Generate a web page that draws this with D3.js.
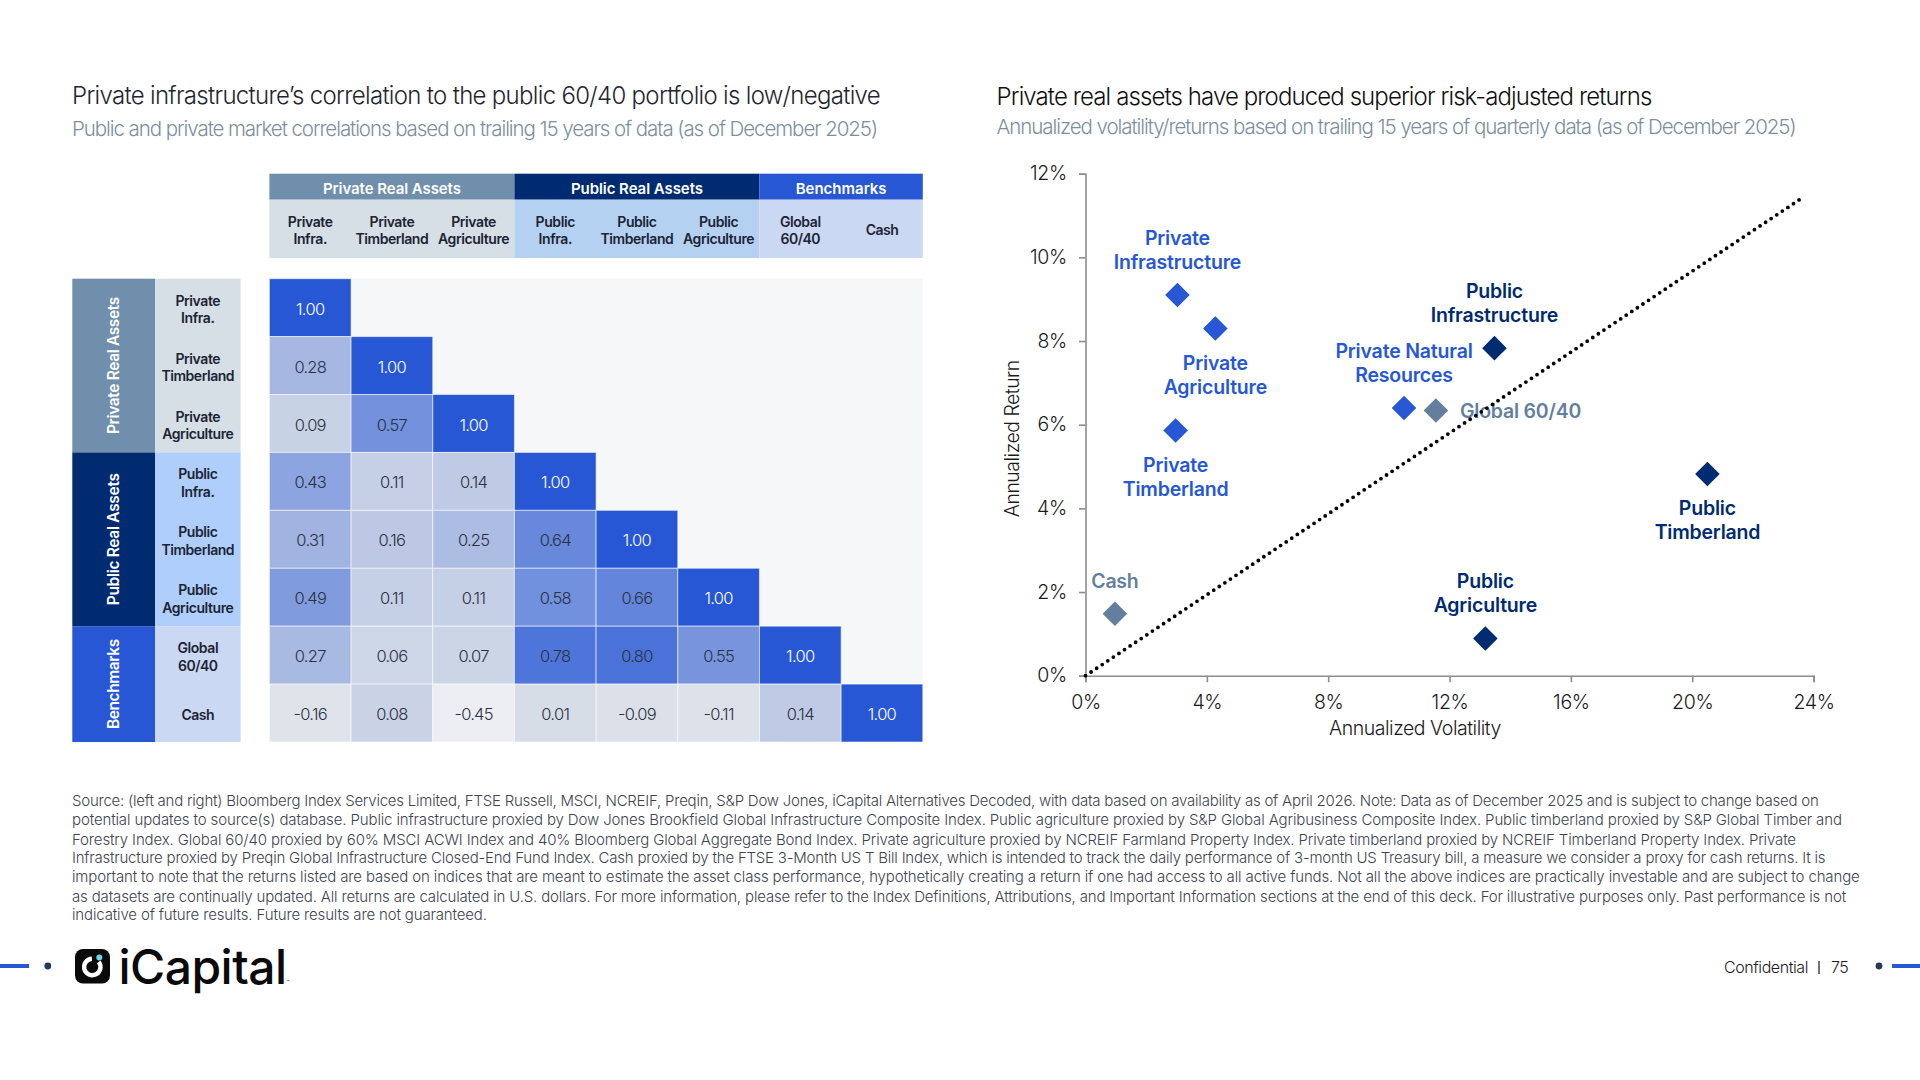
<!DOCTYPE html>
<html><head><meta charset="utf-8">
<script src="https://cdn.jsdelivr.net/npm/d3@7"></script>
<style>html,body{margin:0;padding:0;background:#fff}svg{display:block}text{font-family:Inter,sans-serif}</style>
</head><body><svg id="c" width="1920" height="1080"></svg>
<script>
// ---- data ----
const assetLines = [["Private","Infra."],["Private","Timberland"],["Private","Agriculture"],["Public","Infra."],["Public","Timberland"],["Public","Agriculture"],["Global","60/40"],["Cash"]];
const groupNames = ["Private Real Assets","Public Real Assets","Benchmarks"];
const groupSpans = [3,3,2];
const correlations = [
 [1.00],
 [0.28,1.00],
 [0.09,0.57,1.00],
 [0.43,0.11,0.14,1.00],
 [0.31,0.16,0.25,0.64,1.00],
 [0.49,0.11,0.11,0.58,0.66,1.00],
 [0.27,0.06,0.07,0.78,0.80,0.55,1.00],
 [-0.16,0.08,-0.45,0.01,-0.09,-0.11,0.14,1.00]
];
const pointNames = ["Private Infrastructure","Private Agriculture","Private Timberland","Private Natural Resources","Global 60/40","Public Infrastructure","Public Timberland","Public Agriculture","Cash"];
const pointVol = [3.03,4.28,2.97,10.5,11.55,13.48,20.5,13.18,0.97];
const pointRet = [9.10,8.30,5.86,6.40,6.34,7.83,4.82,0.89,1.48];
const pointGroup = [0,0,0,0,2,1,1,1,2];
const lineVol = [0,23.66];
const lineRet = [0,11.44];
const xTicks = [0,4,8,12,16,20,24];
const yTicks = [0,2,4,6,8,10,12];
const footnote = [
"Source: (left and right) Bloomberg Index Services Limited, FTSE Russell, MSCI, NCREIF, Preqin, S&P Dow Jones, iCapital Alternatives Decoded, with data based on availability as of April 2026. Note: Data as of December 2025 and is subject to change based on",
"potential updates to source(s) database. Public infrastructure proxied by Dow Jones Brookfield Global Infrastructure Composite Index. Public agriculture proxied by S&P Global Agribusiness Composite Index. Public timberland proxied by S&P Global Timber and",
"Forestry Index. Global 60/40 proxied by 60% MSCI ACWI Index and 40% Bloomberg Global Aggregate Bond Index. Private agriculture proxied by NCREIF Farmland Property Index. Private timberland proxied by NCREIF Timberland Property Index. Private",
"Infrastructure proxied by Preqin Global Infrastructure Closed-End Fund Index. Cash proxied by the FTSE 3-Month US T Bill Index, which is intended to track the daily performance of 3-month US Treasury bill, a measure we consider a proxy for cash returns. It is",
"important to note that the returns listed are based on indices that are meant to estimate the asset class performance, hypothetically creating a return if one had access to all active funds. Not all the above indices are practically investable and are subject to change",
"as datasets are continually updated. All returns are calculated in U.S. dollars. For more information, please refer to the Index Definitions, Attributions, and Important Information sections at the end of this deck. For illustrative purposes only. Past performance is not",
"indicative of future results. Future results are not guaranteed."
];

// ---- layout / style ----
const svg = d3.select("#c");
const C = {head:["#6f8fac","#002b70","#2757d5"], sub:["#d6dee6","#b5d1f1","#cbd8f3"], rowLab:["#d6dee6","#b0cefc","#cbd8f4"], mark:["#2757d5","#002b70","#647f9d"], ink:"#232b3b"};
function T(parent,s,x,y,o={}){
  const t=parent.append("text").attr("x",x).attr("y",y).text(s)
    .attr("font-size",o.size||16).attr("font-weight",o.weight||400).attr("fill",o.fill||C.ink)
    .attr("text-anchor",o.anchor||"start");
  if(o.rotate) t.attr("transform",`rotate(-90 ${x} ${y})`);
  const w=t.node().getComputedTextLength();
  const target=o.width||(o.k?w*o.k:null);
  if(target) t.style("letter-spacing",((target-w)/s.length)+"px");
  return t;
}
// titles
T(svg,"Private infrastructure\u2019s correlation to the public 60/40 portfolio is low/negative",72,104,{size:24,weight:300,fill:"#1f2630",width:808});
T(svg,"Public and private market correlations based on trailing 15 years of data (as of December 2025)",72,135.8,{size:20.5,weight:300,fill:"#7c8fa0",width:805});
T(svg,"Private real assets have produced superior risk-adjusted returns",996.5,104.7,{size:24,weight:300,fill:"#111",width:655});
T(svg,"Annualized volatility/returns based on trailing 15 years of quarterly data (as of December 2025)",996.5,134.4,{size:20.5,weight:300,fill:"#7c8fa0",width:799});

// heatmap
const hx = d3.scaleBand().domain(d3.range(8)).range([269.4,922.8]);
const hy = d3.scaleBand().domain(d3.range(8)).range([278.7,742]);
const g = svg.append("g");
const color = d3.scaleLinear().domain([-0.45,0,1]).range(["#eceef3","#d8dee7","#2757d5"]);
g.append("rect").attr("x",hx(0)).attr("y",hy(0)).attr("width",hx.bandwidth()*8).attr("height",hy.bandwidth()*8).attr("fill","#f6f7f8");
let start=0;
groupSpans.forEach((n,gi)=>{
  const x0=hx(start), w=hx.bandwidth()*n;
  g.append("rect").attr("x",x0).attr("y",173.7).attr("width",w).attr("height",26).attr("fill",C.head[gi]);
  g.append("rect").attr("x",x0).attr("y",199.7).attr("width",w).attr("height",58.3).attr("fill",C.sub[gi]);
  T(g,groupNames[gi],x0+w/2,193.6,{size:15,weight:600,fill:"#fff",anchor:"middle",width:[138,132,91][gi]});
  const y0=hy(start), h=hy.bandwidth()*n;
  g.append("rect").attr("x",72.3).attr("y",y0).attr("width",82.7).attr("height",h).attr("fill",C.head[gi]);
  g.append("rect").attr("x",155).attr("y",y0).attr("width",85.6).attr("height",h).attr("fill",C.rowLab[gi]);
  T(g,groupNames[gi],119,y0+h/2,{size:15.5,weight:600,fill:"#fff",anchor:"middle",rotate:true,width:[137,132,90][gi]});
  start+=n;
});
assetLines.forEach((ls,i)=>{
  const cx=hx(i)+hx.bandwidth()/2;
  const sz={size:14,weight:600,fill:"#1b2433",anchor:"middle",k:0.94};
  if(ls.length===2){
    T(g,ls[0],cx,226.7,sz);T(g,ls[1],cx,244.3,sz);
    T(g,ls[0],197.8,hy(i)+27,sz);T(g,ls[1],197.8,hy(i)+44.6,sz);
  } else {
    T(g,ls[0],cx,235,sz);
    T(g,ls[0],197.8,hy(i)+35.8,sz);
  }
});
const cells = correlations.flatMap((r,i)=>r.map((v,j)=>({i,j,v})));
g.selectAll(".cell").data(cells).join("rect").attr("class","cell")
  .attr("x",d=>hx(d.j)).attr("y",d=>hy(d.i)).attr("width",hx.bandwidth()).attr("height",hy.bandwidth())
  .attr("fill",d=>color(d.v)).attr("stroke","rgba(255,255,255,.55)").attr("stroke-width",1);
cells.forEach(d=>T(g,d3.format(".2f")(d.v).replace("\u2212","-"),hx(d.j)+hx.bandwidth()/2,hy(d.i)+36,
  {size:16.5,weight:300,fill:d.v===1?"#fff":"#2a3242",anchor:"middle",k:0.91}));

// scatter
const x = d3.scaleLinear().domain([0,24]).range([1085.5,1813.6]);
const y = d3.scaleLinear().domain([0,12]).range([675.7,173.7]);
const pct=d=>d+"%";
const ax=svg.append("g").attr("transform",`translate(0,${y(0)})`).call(d3.axisBottom(x).tickValues(xTicks).tickFormat(pct).tickSize(6.5));
const ay=svg.append("g").attr("transform",`translate(${x(0)},0)`).call(d3.axisLeft(y).tickValues(yTicks).tickFormat(pct).tickSize(6.5));
[ax,ay].forEach(a=>{
  a.selectAll("path,line").attr("stroke","#8d8d8d").attr("stroke-width",1.6);
  a.selectAll("text").attr("font-size",19.5).attr("font-weight",300).attr("fill","#1a1a1a").style("font-family","Inter").style("letter-spacing","-0.3px");
});
ax.selectAll("text").attr("dy",null).attr("y",709-y(0));
ay.selectAll("text").attr("x",1067-x(0)).attr("dy","0.32em");
T(svg,"Annualized Volatility",1415,735,{size:19.5,weight:300,fill:"#1a1a1a",anchor:"middle",width:172});
T(svg,"Annualized Return",1019.5,438.7,{size:19.5,weight:300,fill:"#1a1a1a",anchor:"middle",rotate:true,width:157});

const labelLines = [["Private","Infrastructure"],["Private","Agriculture"],["Private","Timberland"],["Private Natural","Resources"],["Global 60/40"],["Public","Infrastructure"],["Public","Timberland"],["Public","Agriculture"],["Cash"]];
const labelDy = [-50,41.4,41.1,-50,7.4,-50.2,40.8,-50.2,-25.6];
const labelDx = [0,0,0,0,24,0,0,0,0];
const gl=svg.append("g");
pointNames.forEach((n,i)=>{
  labelLines[i].forEach((s,k)=>T(gl,s,x(pointVol[i])+labelDx[i],y(pointRet[i])+labelDy[i]+k*24.2,
    {size:19.5,weight:600,fill:C.mark[pointGroup[i]],anchor:labelDx[i]?"start":"middle",k:0.98}));
});
svg.append("path").datum(lineVol.map((v,i)=>[v,lineRet[i]]))
  .attr("d",d3.line().x(d=>x(d[0])).y(d=>y(d[1])))
  .attr("fill","none").attr("stroke","#000").attr("stroke-width",3.8).attr("stroke-linecap","round").attr("stroke-dasharray","0 6.7");
svg.selectAll(".pt").data(pointNames).join("path").attr("class","pt")
  .attr("d",d3.symbol(d3.symbolSquare,302))
  .attr("transform",(d,i)=>`translate(${x(pointVol[i])},${y(pointRet[i])}) rotate(45)`)
  .attr("fill",(d,i)=>C.mark[pointGroup[i]]);

// footnote
const fnY=[806,825,844.5,862.5,882,902,920], fnW=[1746.5,1769.8,1723.9,1753.3,1787.6,1774,414.8];
footnote.forEach((s,i)=>T(svg,s,72,fnY[i],{size:15,weight:300,fill:"#3c4450",width:fnW[i]}));

// footer
svg.append("rect").attr("x",0).attr("y",964).attr("width",29).attr("height",4).attr("fill","#2757d5");
svg.append("circle").attr("cx",47.8).attr("cy",966).attr("r",3.4).attr("fill","#24395c");
svg.append("rect").attr("x",1892).attr("y",964).attr("width",28).attr("height",4).attr("fill","#2757d5");
svg.append("circle").attr("cx",1879).attr("cy",966).attr("r",3.4).attr("fill","#24395c");
T(svg,"Confidential",1724,973,{size:16,weight:300,fill:"#1a1a1a",width:84});
svg.append("rect").attr("x",1818.4).attr("y",961).attr("width",1.2).attr("height",13).attr("fill","#1a1a1a");
T(svg,"75",1831,973,{size:16,weight:300,fill:"#1a1a1a",width:17});
// logo
svg.append("rect").attr("x",75).attr("y",949).attr("width",35).attr("height",34.5).attr("rx",8).attr("fill","#0a0a0a");
svg.append("path").attr("transform","translate(92.3,967)").attr("fill","#fff")
  .attr("d",d3.arc()({innerRadius:6,outerRadius:10.4,startAngle:0.9,endAngle:Math.PI*2-0.05}));
svg.append("circle").attr("cx",99.3).attr("cy",957.6).attr("r",3).attr("fill","#6fd3e8");
T(svg,"iCapital",118.5,984,{size:48,weight:500,fill:"#0a0a0a",width:168});
T(svg,"\u2122",286.5,984,{size:5,weight:500,fill:"#333"});
</script></body></html>
